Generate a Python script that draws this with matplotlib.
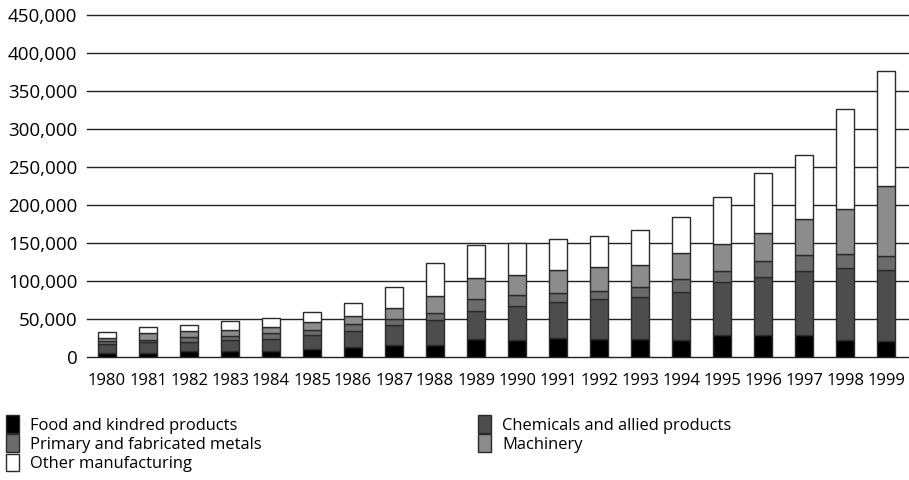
import numpy as np
import matplotlib
matplotlib.use("Agg")
import matplotlib.pyplot as plt
from matplotlib.ticker import FuncFormatter

plt.rcParams['font.family'] = ['Open Sans', 'DejaVu Sans']

years = [str(y) for y in range(1980, 2000)]
food = [5300, 5500, 7000, 7500, 7500, 9900, 12500, 15200, 16000, 23300,
        22000, 24600, 23300, 23300, 22400, 28100, 28600, 28100, 21500, 20200]
chem = [11400, 13500, 13000, 14500, 16200, 18600, 21800, 26700, 32000, 37400,
        45300, 47500, 52300, 55800, 62500, 70000, 76900, 85300, 95500, 94100]
metals = [3600, 3200, 5500, 5700, 7200, 7100, 8400, 8000, 9300, 15400,
          14000, 11900, 11500, 12400, 17100, 14900, 21100, 20300, 18000, 18900]
mach = [4400, 9200, 8000, 7500, 8700, 10300, 10600, 14600, 22700, 27700,
        26900, 30300, 30700, 29400, 34300, 35600, 36100, 48300, 60200, 91500]
other = [8000, 8400, 8700, 11900, 11000, 13300, 17400, 28000, 43200, 43500,
         42200, 40500, 41800, 46600, 47900, 61600, 79600, 83600, 131900, 151700]

series = [
    ("Food and kindred products", food, "#000000"),
    ("Chemicals and allied products", chem, "#4d4d4d"),
    ("Primary and fabricated metals", metals, "#6b6b6b"),
    ("Machinery", mach, "#8c8c8c"),
    ("Other manufacturing", other, "#ffffff"),
]

W, H = 909, 480
fig = plt.figure(figsize=(W / 100, H / 100), dpi=100)
ax = fig.add_axes([87 / W, 1 - 356.7 / H, 1 - 87 / W, (356.7 - 15.3) / H])

x = np.arange(len(years))
bottom = np.zeros(len(years))
handles = {}
for name, vals, col in series:
    b = ax.bar(x, vals, 0.455, bottom=bottom, color=col, edgecolor="#2a2a2a",
               linewidth=1.0, label=name, zorder=3)
    handles[name] = b
    bottom += np.array(vals)

ax.set_ylim(0, 450000)
ax.set_xlim(-0.49, 19.56)
ax.set_yticks(np.arange(0, 450001, 50000))
ax.yaxis.set_major_formatter(FuncFormatter(lambda v, p: f"{int(v):,}"))
ax.set_xticks(x)
ax.set_xticklabels(years, fontsize=12)
ax.tick_params(axis="y", labelsize=13.5, length=0, pad=7)
ax.tick_params(axis="x", length=0, pad=12)
for s in ax.spines.values():
    s.set_visible(False)
ax.yaxis.grid(True, color="#222222", linewidth=1.0, zorder=0)
for gl in ax.get_ygridlines():
    gl.set_clip_on(False)
ax.set_axisbelow(True)

order = ["Food and kindred products", "Primary and fabricated metals",
         "Other manufacturing", "Chemicals and allied products", "Machinery"]
leg = fig.legend([handles[n] for n in order], order, ncol=2,
                 loc="upper left", bbox_to_anchor=(0.003, 1 - 412 / H),
                 frameon=False, fontsize=11.9, handlelength=0.8,
                 handleheight=1.25, handletextpad=0.65, labelspacing=0.05,
                 columnspacing=13.1, borderaxespad=0, borderpad=0.2)

fig.savefig("out.png", dpi=100)
